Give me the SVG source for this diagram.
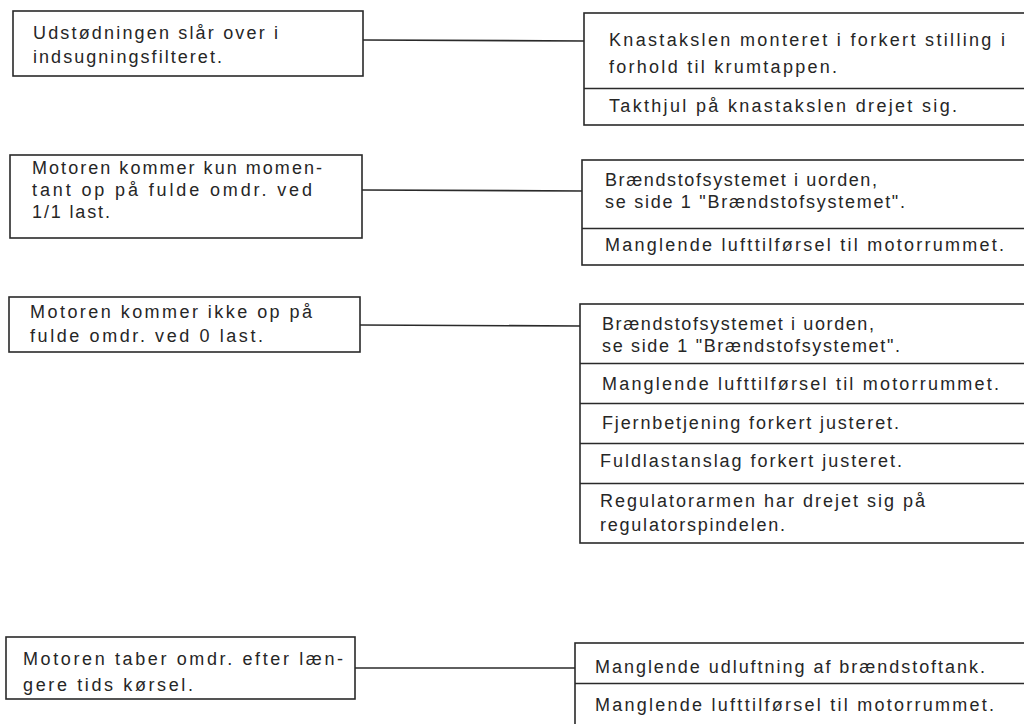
<svg xmlns="http://www.w3.org/2000/svg" width="1024" height="724" viewBox="0 0 1024 724">
<style>
.b{fill:#fff;stroke:#2a2a2a;stroke-width:1.6}
.d{stroke:#2a2a2a;stroke-width:1.6;fill:none}
.t{font-family:"Liberation Sans",Arial,sans-serif;font-size:18px;fill:#262626}
</style>
<rect width="1024" height="724" fill="#fff"/>
<g id="connectors">
<line class="d" x1="363" y1="40" x2="584" y2="41"/>
<line class="d" x1="362" y1="190" x2="582" y2="191"/>
<line class="d" x1="360" y1="325" x2="580" y2="326"/>
<line class="d" x1="355" y1="668" x2="575" y2="668"/>
</g>
<g id="n1">
<rect class="b" x="13" y="11" width="350" height="65"/>
<text class="t" x="33" y="39" textLength="245" lengthAdjust="spacing">Udstødningen slår over i</text>
<text class="t" x="33" y="63" textLength="189" lengthAdjust="spacing">indsugningsfilteret.</text>
</g>
<g id="n1r">
<rect class="b" x="584" y="13" width="460" height="112"/>
<path class="d" d="M584 88.5H1044"/>
<text class="t" x="609" y="46" textLength="396" lengthAdjust="spacing">Knastakslen monteret i forkert stilling i</text>
<text class="t" x="609" y="73" textLength="228" lengthAdjust="spacing">forhold til krumtappen.</text>
<text class="t" x="609" y="112" textLength="348" lengthAdjust="spacing">Takthjul på knastakslen drejet sig.</text>
</g>
<g id="n2">
<rect class="b" x="10" y="155" width="352" height="83"/>
<text class="t" x="32" y="174" textLength="290" lengthAdjust="spacing">Motoren kommer kun momen-</text>
<text class="t" x="32" y="196" textLength="280" lengthAdjust="spacing">tant op på fulde omdr. ved</text>
<text class="t" x="32" y="218" textLength="78" lengthAdjust="spacing">1/1 last.</text>
</g>
<g id="n2r">
<rect class="b" x="582" y="160" width="462" height="105"/>
<path class="d" d="M582 228.5H1044"/>
<text class="t" x="605" y="186" textLength="272" lengthAdjust="spacing">Brændstofsystemet i uorden,</text>
<text class="t" x="605" y="208" textLength="300" lengthAdjust="spacing">se side 1 "Brændstofsystemet".</text>
<text class="t" x="605" y="251" textLength="399" lengthAdjust="spacing">Manglende lufttilførsel til motorrummet.</text>
</g>
<g id="n3">
<rect class="b" x="9" y="297" width="351" height="55"/>
<text class="t" x="30" y="318" textLength="282" lengthAdjust="spacing">Motoren kommer ikke op på</text>
<text class="t" x="30" y="342" textLength="233" lengthAdjust="spacing">fulde omdr. ved 0 last.</text>
</g>
<g id="n3r">
<rect class="b" x="580" y="304" width="464" height="239"/>
<path class="d" d="M580 363.5H1044M580 403.5H1044M580 443.5H1044M580 483.5H1044"/>
<text class="t" x="602" y="330" textLength="272" lengthAdjust="spacing">Brændstofsystemet i uorden,</text>
<text class="t" x="602" y="352" textLength="298" lengthAdjust="spacing">se side 1 "Brændstofsystemet".</text>
<text class="t" x="602" y="390" textLength="397" lengthAdjust="spacing">Manglende lufttilførsel til motorrummet.</text>
<text class="t" x="602" y="429" textLength="297" lengthAdjust="spacing">Fjernbetjening forkert justeret.</text>
<text class="t" x="600" y="467" textLength="302" lengthAdjust="spacing">Fuldlastanslag forkert justeret.</text>
<text class="t" x="600" y="507" textLength="325" lengthAdjust="spacing">Regulatorarmen har drejet sig på</text>
<text class="t" x="600" y="531" textLength="185" lengthAdjust="spacing">regulatorspindelen.</text>
</g>
<g id="n4">
<rect class="b" x="6" y="637" width="349" height="62"/>
<text class="t" x="23" y="665" textLength="320" lengthAdjust="spacing">Motoren taber omdr. efter læn-</text>
<text class="t" x="23" y="691" textLength="170" lengthAdjust="spacing">gere tids kørsel.</text>
</g>
<g id="n4r">
<rect class="b" x="575" y="643" width="469" height="100"/>
<path class="d" d="M575 683.5H1044"/>
<text class="t" x="595" y="673" textLength="390" lengthAdjust="spacing">Manglende udluftning af brændstoftank.</text>
<text class="t" x="595" y="711" textLength="399" lengthAdjust="spacing">Manglende lufttilførsel til motorrummet.</text>
</g>
</svg>
